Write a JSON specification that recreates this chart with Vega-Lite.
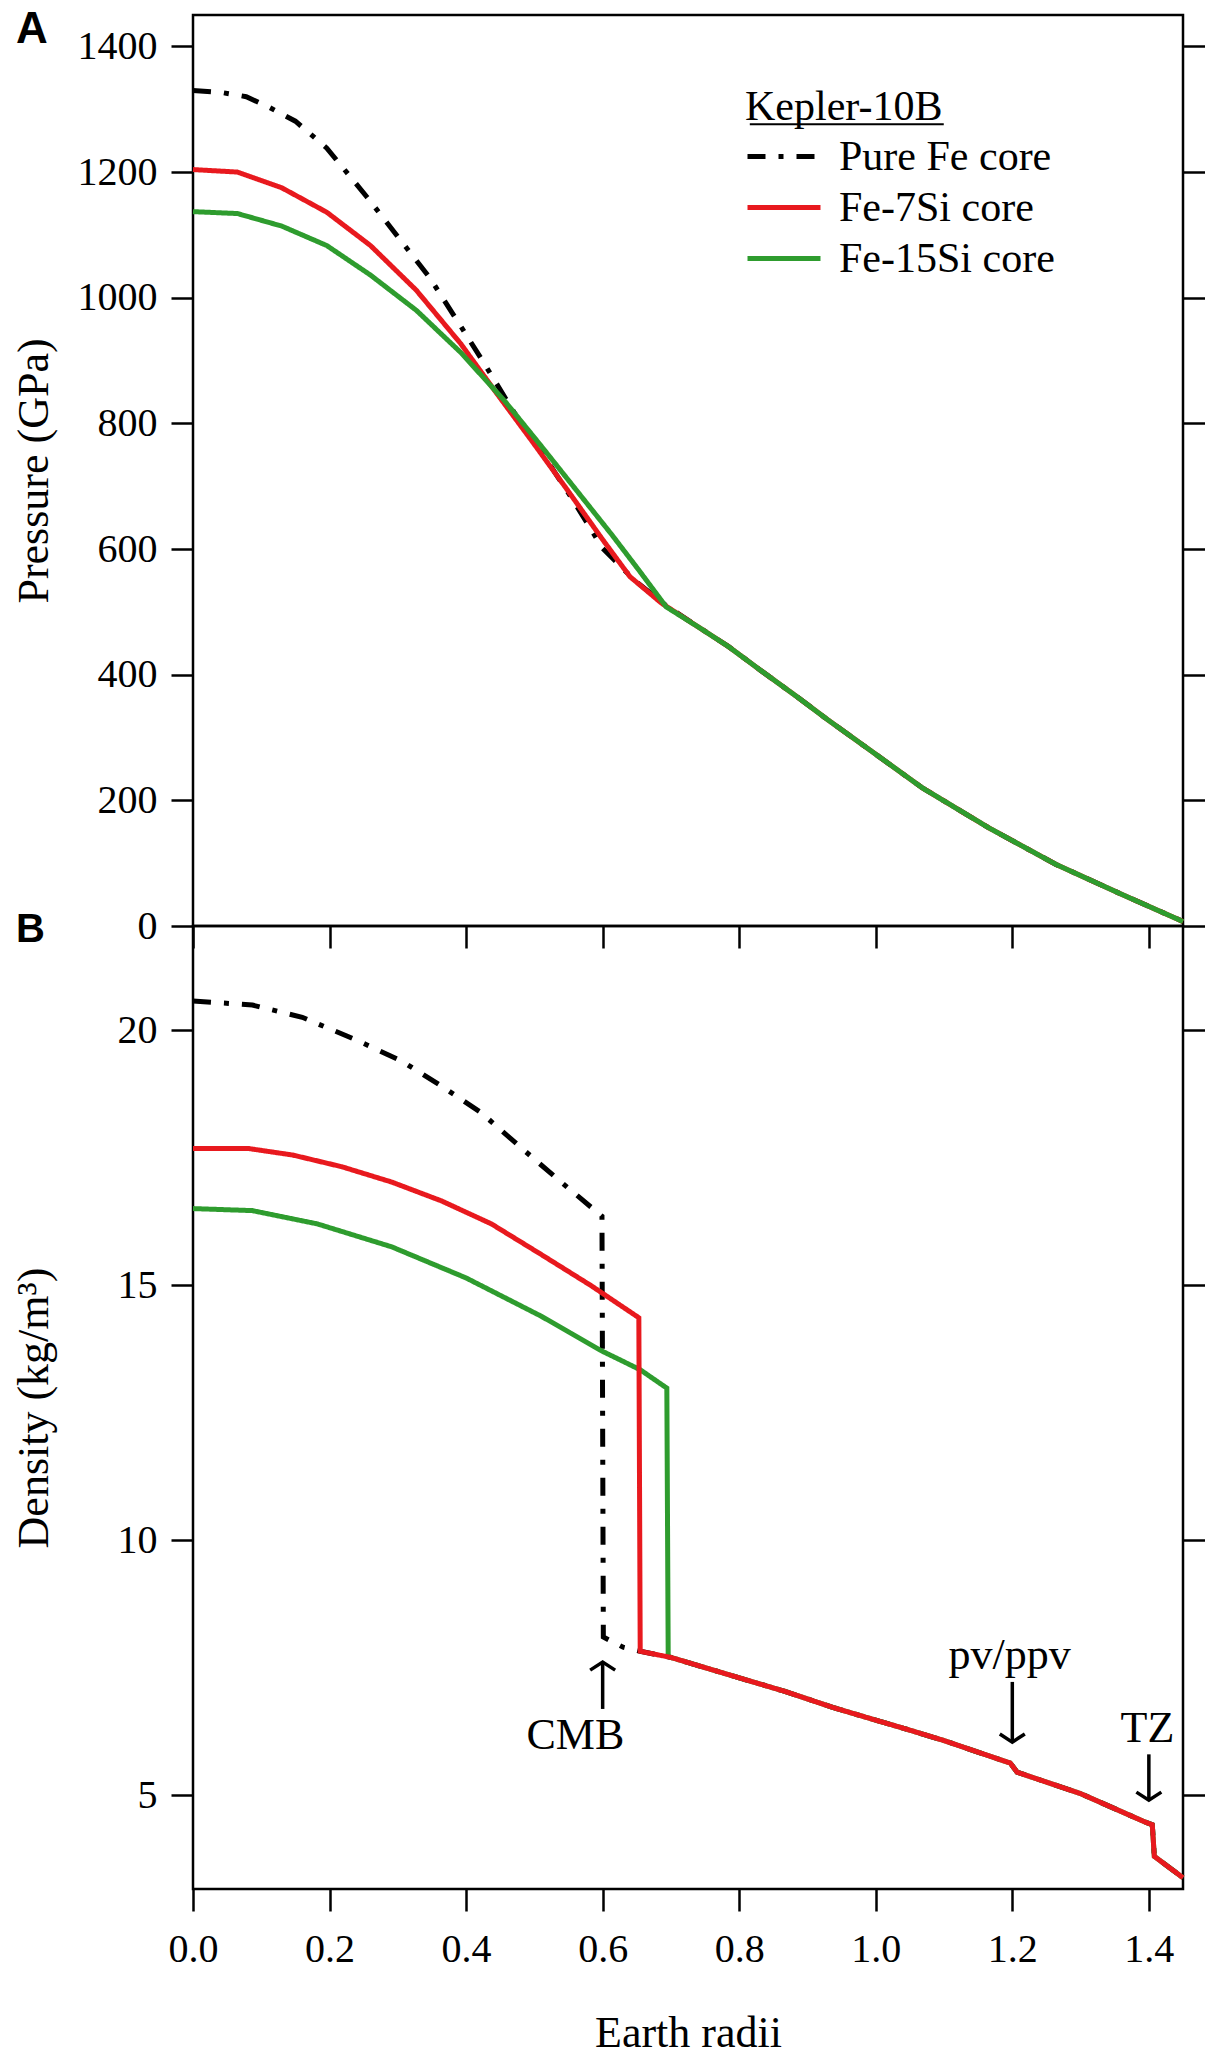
{
  "$schema": "https://vega.github.io/schema/vega-lite/v6.json",
  "padding": {"left": 10, "top": 6, "right": 0, "bottom": 0},
  "background": "white",
  "spacing": 0,
  "bounds": "flush",
  "config": {
    "font": "Liberation Serif",
    "view": {"stroke": "black", "strokeWidth": 2.5},
    "axis": {
      "domain": false,
      "grid": false,
      "tickColor": "black",
      "tickWidth": 2.5,
      "tickSize": 22,
      "labelFont": "Liberation Serif",
      "labelFontSize": 40,
      "labelColor": "black",
      "labelPadding": 14,
      "labelFlush": false,
      "labelOverlap": false,
      "titleFont": "Liberation Serif",
      "titleFontSize": 44,
      "titleFontWeight": "normal",
      "titleColor": "black"
    },
    "axisY": {"titleX": -146, "titleBaseline": "alphabetic"},
    "line": {"strokeWidth": 5}
  },
  "datasets": {
    "pressure": [
      {"s": "Pure Fe core", "r": 0, "p": 1330}, {"s": "Pure Fe core", "r": 0.04, "p": 1327}, {"s": "Pure Fe core", "r": 0.078, "p": 1320},
      {"s": "Pure Fe core", "r": 0.11, "p": 1304}, {"s": "Pure Fe core", "r": 0.15, "p": 1281}, {"s": "Pure Fe core", "r": 0.196, "p": 1238},
      {"s": "Pure Fe core", "r": 0.255, "p": 1160}, {"s": "Pure Fe core", "r": 0.3, "p": 1097}, {"s": "Pure Fe core", "r": 0.346, "p": 1033},
      {"s": "Pure Fe core", "r": 0.392, "p": 955}, {"s": "Pure Fe core", "r": 0.425, "p": 898}, {"s": "Pure Fe core", "r": 0.47, "p": 818},
      {"s": "Pure Fe core", "r": 0.516, "p": 745}, {"s": "Pure Fe core", "r": 0.556, "p": 679}, {"s": "Pure Fe core", "r": 0.6, "p": 601},
      {"s": "Pure Fe core", "r": 0.647, "p": 550}, {"s": "Pure Fe core", "r": 0.693, "p": 510}, {"s": "Pure Fe core", "r": 0.74, "p": 476},
      {"s": "Pure Fe core", "r": 0.784, "p": 445}, {"s": "Pure Fe core", "r": 0.83, "p": 408}, {"s": "Pure Fe core", "r": 0.882, "p": 367},
      {"s": "Pure Fe core", "r": 0.93, "p": 328}, {"s": "Pure Fe core", "r": 0.98, "p": 289}, {"s": "Pure Fe core", "r": 1.068, "p": 220},
      {"s": "Pure Fe core", "r": 1.166, "p": 156}, {"s": "Pure Fe core", "r": 1.264, "p": 98}, {"s": "Pure Fe core", "r": 1.361, "p": 50},
      {"s": "Pure Fe core", "r": 1.442, "p": 11}, {"s": "Pure Fe core", "r": 1.45, "p": 7},

      {"s": "Fe-7Si core", "r": 0, "p": 1204}, {"s": "Fe-7Si core", "r": 0.065, "p": 1200}, {"s": "Fe-7Si core", "r": 0.13, "p": 1175},
      {"s": "Fe-7Si core", "r": 0.196, "p": 1136}, {"s": "Fe-7Si core", "r": 0.26, "p": 1083}, {"s": "Fe-7Si core", "r": 0.327, "p": 1012},
      {"s": "Fe-7Si core", "r": 0.392, "p": 927}, {"s": "Fe-7Si core", "r": 0.444, "p": 849}, {"s": "Fe-7Si core", "r": 0.497, "p": 771},
      {"s": "Fe-7Si core", "r": 0.549, "p": 693}, {"s": "Fe-7Si core", "r": 0.6, "p": 615}, {"s": "Fe-7Si core", "r": 0.64, "p": 556},
      {"s": "Fe-7Si core", "r": 0.686, "p": 514}, {"s": "Fe-7Si core", "r": 0.74, "p": 476},
      {"s": "Fe-7Si core", "r": 0.784, "p": 445}, {"s": "Fe-7Si core", "r": 0.83, "p": 408}, {"s": "Fe-7Si core", "r": 0.882, "p": 367},
      {"s": "Fe-7Si core", "r": 0.93, "p": 328}, {"s": "Fe-7Si core", "r": 0.98, "p": 289}, {"s": "Fe-7Si core", "r": 1.068, "p": 220},
      {"s": "Fe-7Si core", "r": 1.166, "p": 156}, {"s": "Fe-7Si core", "r": 1.264, "p": 98}, {"s": "Fe-7Si core", "r": 1.361, "p": 50},
      {"s": "Fe-7Si core", "r": 1.442, "p": 11}, {"s": "Fe-7Si core", "r": 1.45, "p": 7},

      {"s": "Fe-15Si core", "r": 0, "p": 1137}, {"s": "Fe-15Si core", "r": 0.065, "p": 1134}, {"s": "Fe-15Si core", "r": 0.13, "p": 1114},
      {"s": "Fe-15Si core", "r": 0.196, "p": 1083}, {"s": "Fe-15Si core", "r": 0.26, "p": 1036}, {"s": "Fe-15Si core", "r": 0.327, "p": 980},
      {"s": "Fe-15Si core", "r": 0.392, "p": 913}, {"s": "Fe-15Si core", "r": 0.457, "p": 835}, {"s": "Fe-15Si core", "r": 0.51, "p": 764},
      {"s": "Fe-15Si core", "r": 0.562, "p": 693}, {"s": "Fe-15Si core", "r": 0.614, "p": 622}, {"s": "Fe-15Si core", "r": 0.654, "p": 565},
      {"s": "Fe-15Si core", "r": 0.693, "p": 508}, {"s": "Fe-15Si core", "r": 0.74, "p": 476},
      {"s": "Fe-15Si core", "r": 0.784, "p": 445}, {"s": "Fe-15Si core", "r": 0.83, "p": 408}, {"s": "Fe-15Si core", "r": 0.882, "p": 367},
      {"s": "Fe-15Si core", "r": 0.93, "p": 328}, {"s": "Fe-15Si core", "r": 0.98, "p": 289}, {"s": "Fe-15Si core", "r": 1.068, "p": 220},
      {"s": "Fe-15Si core", "r": 1.166, "p": 156}, {"s": "Fe-15Si core", "r": 1.264, "p": 98}, {"s": "Fe-15Si core", "r": 1.361, "p": 50},
      {"s": "Fe-15Si core", "r": 1.442, "p": 11}, {"s": "Fe-15Si core", "r": 1.45, "p": 7}
    ],
    "density": [
      {"s": "Pure Fe core", "r": 0, "d": 20.57}, {"s": "Pure Fe core", "r": 0.087, "d": 20.49}, {"s": "Pure Fe core", "r": 0.16, "d": 20.25},
      {"s": "Pure Fe core", "r": 0.24, "d": 19.8}, {"s": "Pure Fe core", "r": 0.306, "d": 19.39}, {"s": "Pure Fe core", "r": 0.364, "d": 18.9},
      {"s": "Pure Fe core", "r": 0.422, "d": 18.38}, {"s": "Pure Fe core", "r": 0.48, "d": 17.7}, {"s": "Pure Fe core", "r": 0.539, "d": 17.02},
      {"s": "Pure Fe core", "r": 0.599, "d": 16.35}, {"s": "Pure Fe core", "r": 0.601, "d": 8.1}, {"s": "Pure Fe core", "r": 0.63, "d": 7.9},
      {"s": "Pure Fe core", "r": 0.655, "d": 7.82}, {"s": "Pure Fe core", "r": 0.7, "d": 7.7}, {"s": "Pure Fe core", "r": 0.8, "d": 7.3},
      {"s": "Pure Fe core", "r": 0.868, "d": 7.03}, {"s": "Pure Fe core", "r": 0.937, "d": 6.72}, {"s": "Pure Fe core", "r": 1.0, "d": 6.47},
      {"s": "Pure Fe core", "r": 1.041, "d": 6.31}, {"s": "Pure Fe core", "r": 1.1, "d": 6.07}, {"s": "Pure Fe core", "r": 1.19, "d": 5.66},
      {"s": "Pure Fe core", "r": 1.197, "d": 5.63}, {"s": "Pure Fe core", "r": 1.207, "d": 5.45}, {"s": "Pure Fe core", "r": 1.3, "d": 5.03},
      {"s": "Pure Fe core", "r": 1.395, "d": 4.47}, {"s": "Pure Fe core", "r": 1.405, "d": 4.42}, {"s": "Pure Fe core", "r": 1.408, "d": 3.8},
      {"s": "Pure Fe core", "r": 1.45, "d": 3.38},

      {"s": "Fe-7Si core", "r": 0, "d": 17.68}, {"s": "Fe-7Si core", "r": 0.08, "d": 17.68}, {"s": "Fe-7Si core", "r": 0.146, "d": 17.55},
      {"s": "Fe-7Si core", "r": 0.218, "d": 17.32}, {"s": "Fe-7Si core", "r": 0.291, "d": 17.02}, {"s": "Fe-7Si core", "r": 0.364, "d": 16.65},
      {"s": "Fe-7Si core", "r": 0.437, "d": 16.2}, {"s": "Fe-7Si core", "r": 0.51, "d": 15.6}, {"s": "Fe-7Si core", "r": 0.583, "d": 14.99},
      {"s": "Fe-7Si core", "r": 0.653, "d": 14.36}, {"s": "Fe-7Si core", "r": 0.655, "d": 7.82}, {"s": "Fe-7Si core", "r": 0.7, "d": 7.7},
      {"s": "Fe-7Si core", "r": 0.8, "d": 7.3}, {"s": "Fe-7Si core", "r": 0.868, "d": 7.03}, {"s": "Fe-7Si core", "r": 0.937, "d": 6.72},
      {"s": "Fe-7Si core", "r": 1.0, "d": 6.47}, {"s": "Fe-7Si core", "r": 1.041, "d": 6.31}, {"s": "Fe-7Si core", "r": 1.1, "d": 6.07},
      {"s": "Fe-7Si core", "r": 1.19, "d": 5.66}, {"s": "Fe-7Si core", "r": 1.197, "d": 5.63}, {"s": "Fe-7Si core", "r": 1.207, "d": 5.45},
      {"s": "Fe-7Si core", "r": 1.3, "d": 5.03}, {"s": "Fe-7Si core", "r": 1.395, "d": 4.47}, {"s": "Fe-7Si core", "r": 1.405, "d": 4.42},
      {"s": "Fe-7Si core", "r": 1.408, "d": 3.8}, {"s": "Fe-7Si core", "r": 1.45, "d": 3.38},

      {"s": "Fe-15Si core", "r": 0, "d": 16.5}, {"s": "Fe-15Si core", "r": 0.087, "d": 16.46}, {"s": "Fe-15Si core", "r": 0.182, "d": 16.2},
      {"s": "Fe-15Si core", "r": 0.291, "d": 15.75}, {"s": "Fe-15Si core", "r": 0.4, "d": 15.14}, {"s": "Fe-15Si core", "r": 0.51, "d": 14.39},
      {"s": "Fe-15Si core", "r": 0.597, "d": 13.72}, {"s": "Fe-15Si core", "r": 0.655, "d": 13.34}, {"s": "Fe-15Si core", "r": 0.694, "d": 12.98},
      {"s": "Fe-15Si core", "r": 0.696, "d": 7.72}, {"s": "Fe-15Si core", "r": 0.7, "d": 7.7}, {"s": "Fe-15Si core", "r": 0.8, "d": 7.3},
      {"s": "Fe-15Si core", "r": 0.868, "d": 7.03}, {"s": "Fe-15Si core", "r": 0.937, "d": 6.72}, {"s": "Fe-15Si core", "r": 1.0, "d": 6.47},
      {"s": "Fe-15Si core", "r": 1.041, "d": 6.31}, {"s": "Fe-15Si core", "r": 1.1, "d": 6.07}, {"s": "Fe-15Si core", "r": 1.19, "d": 5.66},
      {"s": "Fe-15Si core", "r": 1.197, "d": 5.63}, {"s": "Fe-15Si core", "r": 1.207, "d": 5.45}, {"s": "Fe-15Si core", "r": 1.3, "d": 5.03},
      {"s": "Fe-15Si core", "r": 1.395, "d": 4.47}, {"s": "Fe-15Si core", "r": 1.405, "d": 4.42}, {"s": "Fe-15Si core", "r": 1.408, "d": 3.8},
      {"s": "Fe-15Si core", "r": 1.45, "d": 3.38}
    ],
    "underline": [
      {"r": 0.8155, "r2": 1.0996, "p": 1276}
    ],
    "notes": [
      {"label": "CMB", "r": 0.6, "from": 6.69, "to": 7.61, "dir": "up", "lr": 0.56, "ld": 5.9},
      {"label": "pv/ppv", "r": 1.2, "from": 7.22, "to": 6.04, "dir": "down", "lr": 1.196, "ld": 7.47},
      {"label": "TZ", "r": 1.4, "from": 5.8, "to": 4.9, "dir": "down", "lr": 1.398, "ld": 6.04}
    ]
  },
  "resolve": {
    "scale": {"color": "independent", "strokeDash": "independent"},
    "legend": {"color": "independent", "strokeDash": "independent"}
  },
  "vconcat": [
    {
      "width": 990,
      "height": 911,
      "title": {"text": "A", "anchor": "start", "frame": "group", "font": "Liberation Sans", "fontSize": 44, "fontWeight": "bold", "color": "black", "baseline": "alphabetic", "offset": -72, "dx": -177},
      "encoding": {
        "x": {"field": "r", "type": "quantitative", "scale": {"domain": [0, 1.45], "nice": false, "zero": false},
              "axis": {"values": [0, 0.2, 0.4, 0.6, 0.8, 1.0, 1.2, 1.4], "labels": false, "title": null}}
      },
      "layer": [
        {
          "data": {"name": "pressure"},
          "transform": [{"filter": "datum.s === 'Pure Fe core'"}],
          "mark": {"type": "line"},
          "encoding": {
            "y": {"field": "p", "type": "quantitative", "scale": {"domain": [0, 1450], "nice": false, "zero": false},
                  "axis": {"orient": "left", "values": [0, 200, 400, 600, 800, 1000, 1200, 1400], "format": "d", "title": "Pressure (GPa)"}},
            "color": {"field": "s", "type": "nominal",
                      "scale": {"domain": ["Pure Fe core", "Fe-7Si core", "Fe-15Si core"], "range": ["black", "#e8191e", "#2e9c2e"]},
                      "legend": {"orient": "none", "legendX": 552, "legendY": 72, "title": "Kepler-10B", "padding": 0,
                                 "titleFont": "Liberation Serif", "titleFontSize": 42, "titleFontWeight": "normal", "titleColor": "black", "titlePadding": 2, "titleLimit": 600,
                                 "labelFont": "Liberation Serif", "labelFontSize": 42, "labelColor": "black", "labelOffset": 16, "labelLimit": 600,
                                 "symbolType": "stroke", "symbolSize": 5329, "symbolStrokeWidth": 5, "clipHeight": 51, "rowPadding": 0}},
            "strokeDash": {"field": "s", "type": "nominal",
                           "scale": {"domain": ["Pure Fe core", "Fe-7Si core", "Fe-15Si core"], "range": [[18, 13, 5, 13], [1, 0], [1, 0]]},
                           "legend": {"orient": "none", "legendX": 552, "legendY": 72, "title": "Kepler-10B", "padding": 0,
                                      "titleFont": "Liberation Serif", "titleFontSize": 42, "titleFontWeight": "normal", "titleColor": "black", "titlePadding": 2, "titleLimit": 600,
                                      "labelFont": "Liberation Serif", "labelFontSize": 42, "labelColor": "black", "labelOffset": 16, "labelLimit": 600,
                                      "symbolType": "stroke", "symbolSize": 5329, "symbolStrokeWidth": 5, "clipHeight": 51, "rowPadding": 0}}
          }
        },
        {
          "data": {"name": "pressure"},
          "transform": [{"filter": "datum.s === 'Fe-7Si core'"}],
          "mark": {"type": "line"},
          "encoding": {
            "y": {"field": "p", "type": "quantitative", "axis": null},
            "color": {"field": "s", "type": "nominal"},
            "strokeDash": {"field": "s", "type": "nominal"}
          }
        },
        {
          "data": {"name": "pressure"},
          "transform": [{"filter": "datum.s === 'Fe-15Si core'"}],
          "mark": {"type": "line"},
          "encoding": {
            "y": {"field": "p", "type": "quantitative",
                  "axis": {"orient": "right", "values": [0, 200, 400, 600, 800, 1000, 1200, 1400], "labels": false, "title": null}},
            "color": {"field": "s", "type": "nominal"},
            "strokeDash": {"field": "s", "type": "nominal"}
          }
        },
        {
          "data": {"name": "underline"},
          "mark": {"type": "rule", "color": "black", "strokeWidth": 2},
          "encoding": {
            "x2": {"field": "r2"},
            "y": {"field": "p", "type": "quantitative", "axis": null}
          }
        }
      ],
      "resolve": {"axis": {"y": "independent"}}
    },
    {
      "width": 990,
      "height": 963,
      "title": {"text": "B", "anchor": "start", "frame": "group", "font": "Liberation Sans", "fontSize": 40, "fontWeight": "bold", "color": "black", "baseline": "alphabetic", "offset": -56, "dx": -177},
      "encoding": {
        "x": {"field": "r", "type": "quantitative", "scale": {"domain": [0, 1.45], "nice": false, "zero": false},
              "axis": {"values": [0, 0.2, 0.4, 0.6, 0.8, 1.0, 1.2, 1.4], "format": ".1f", "title": "Earth radii", "labelPadding": 18, "titlePadding": 42}}
      },
      "layer": [
        {
          "data": {"name": "density"},
          "transform": [{"filter": "datum.s === 'Pure Fe core'"}],
          "mark": {"type": "line"},
          "encoding": {
            "y": {"field": "d", "type": "quantitative", "scale": {"domain": [3.16, 22.04], "nice": false, "zero": false},
                  "axis": {"orient": "left", "values": [5, 10, 15, 20], "format": "d", "title": "Density (kg/m³)"}},
            "color": {"field": "s", "type": "nominal", "legend": null,
                      "scale": {"domain": ["Pure Fe core", "Fe-7Si core", "Fe-15Si core"], "range": ["black", "#e8191e", "#2e9c2e"]}},
            "strokeDash": {"field": "s", "type": "nominal", "legend": null,
                           "scale": {"domain": ["Pure Fe core", "Fe-7Si core", "Fe-15Si core"], "range": [[18, 13, 5, 13], [1, 0], [1, 0]]}}
          }
        },
        {
          "data": {"name": "density"},
          "transform": [{"filter": "datum.s === 'Fe-15Si core'"}],
          "mark": {"type": "line"},
          "encoding": {
            "y": {"field": "d", "type": "quantitative", "axis": null},
            "color": {"field": "s", "type": "nominal", "legend": null},
            "strokeDash": {"field": "s", "type": "nominal", "legend": null}
          }
        },
        {
          "data": {"name": "density"},
          "transform": [{"filter": "datum.s === 'Fe-7Si core'"}],
          "mark": {"type": "line"},
          "encoding": {
            "y": {"field": "d", "type": "quantitative", "axis": null},
            "color": {"field": "s", "type": "nominal", "legend": null},
            "strokeDash": {"field": "s", "type": "nominal", "legend": null}
          }
        },
        {
          "data": {"name": "notes"},
          "mark": {"type": "rule", "color": "black", "strokeWidth": 3.5},
          "encoding": {
            "y": {"field": "from", "type": "quantitative",
                  "axis": {"orient": "right", "values": [5, 10, 15, 20], "labels": false, "title": null}},
            "y2": {"field": "to"}
          }
        },
        {
          "data": {"name": "notes"},
          "mark": {"type": "point", "filled": false, "color": "black", "strokeWidth": 3.5, "size": 625, "opacity": 1},
          "encoding": {
            "y": {"field": "to", "type": "quantitative", "axis": null},
            "shape": {"field": "dir", "type": "nominal", "legend": null,
                      "scale": {"domain": ["up", "down"], "range": ["M-1,0.65L0,0L1,0.65", "M-1,-0.65L0,0L1,-0.65"]}}
          }
        },
        {
          "data": {"name": "notes"},
          "mark": {"type": "text", "font": "Liberation Serif", "fontSize": 44, "baseline": "alphabetic", "align": "center", "color": "black"},
          "encoding": {
            "x": {"field": "lr", "type": "quantitative",
                  "axis": {"values": [0, 0.2, 0.4, 0.6, 0.8, 1.0, 1.2, 1.4], "format": ".1f", "title": "Earth radii", "labelPadding": 18, "titlePadding": 42}},
            "y": {"field": "ld", "type": "quantitative", "axis": null},
            "text": {"field": "label"}
          }
        }
      ],
      "resolve": {"axis": {"y": "independent"}}
    }
  ]
}
